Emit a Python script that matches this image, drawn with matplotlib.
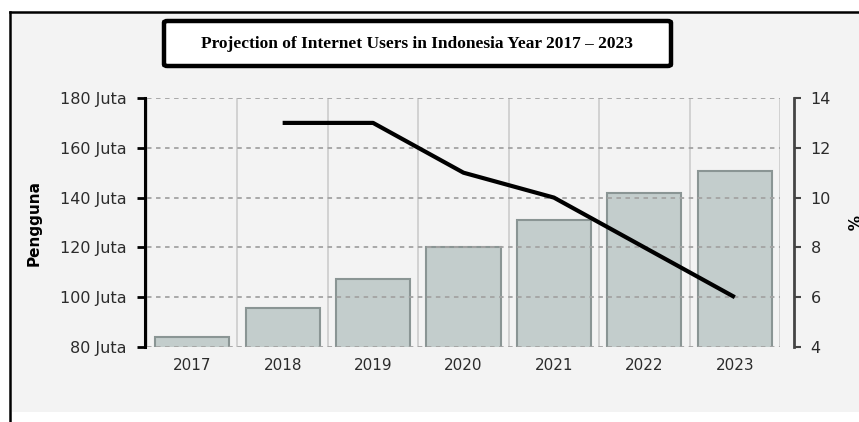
import matplotlib.pyplot as plt
import numpy as np
from matplotlib.patches import Rectangle, FancyBboxPatch
from matplotlib.lines import Line2D

# ===== Data =====
years = ["2017", "2018", "2019", "2020", "2021", "2022", "2023"]
users_juta = [84, 95.5, 107.5, 120, 131, 142, 150.5]
growth_years = ["2018", "2019", "2020", "2021", "2022", "2023"]
growth_pct = [13, 13, 11, 10, 8, 6]
left_ticks = [80, 100, 120, 140, 160, 180]
right_ticks = [4, 6, 8, 10, 12, 14]

# ===== Styling =====
W, H = 859, 422
bar_face = "#c3cdcc"
bar_edge = "#8a9594"
tick_color = "#2b2b2b"

fig = plt.figure(figsize=(W / 100, H / 100), dpi=100)
fig.patch.set_facecolor("white")

# gray panel + black frame (top and left)
fig.patches.append(Rectangle((12 / W, 1 - 412 / H), 1, (412 - 13) / H,
                             transform=fig.transFigure, facecolor="#f3f3f3",
                             edgecolor="none", zorder=-5))
fig.lines.append(Line2D([10 / W, 1], [1 - 12 / H, 1 - 12 / H], transform=fig.transFigure,
                        color="black", lw=1.8, zorder=-4))
fig.lines.append(Line2D([10 / W, 10 / W], [1 - 12 / H, 0], transform=fig.transFigure,
                        color="black", lw=1.8, zorder=-4))

ax = fig.add_axes([147 / W, 75 / H, 633 / W, 249 / H])
ax.set_facecolor("none")
x = np.arange(len(years))

ax.bar(x, users_juta, width=0.82, bottom=0, color=bar_face, edgecolor=bar_edge,
       linewidth=1.5, zorder=1)
ax.set_xlim(-0.5, len(years) - 0.5)
ax.set_ylim(80, 180)
ax.set_yticks(left_ticks)
ax.set_yticklabels([f"{v} Juta" for v in left_ticks])
ax.set_xticks(x)
ax.set_xticklabels(years)

# grid: dotted horizontal, solid light vertical at category boundaries
ax.set_xticks(np.arange(-0.5, len(years)), minor=True)
ax.grid(True, axis="x", which="minor", color="#d2d2d2", lw=1.4, zorder=0.5)
ax.grid(False, axis="x", which="major")
ax.grid(True, axis="y", which="major", color="#a3a3a3", lw=1.3,
        linestyle=(0, (2.5, 2.5)), zorder=2)
ax.set_axisbelow(False)

for s in ["top", "right", "bottom"]:
    ax.spines[s].set_visible(False)
ax.spines["left"].set_position(("outward", 1.5))
ax.spines["left"].set_linewidth(2.2)
ax.tick_params(axis="y", which="major", direction="out", length=6, width=2,
               colors="black", labelcolor=tick_color, labelsize=11.5, pad=7)
ax.tick_params(axis="x", which="both", length=0, labelcolor=tick_color,
               labelsize=11, pad=8)
ax.set_ylabel("Pengguna", fontsize=11, fontweight="bold", labelpad=13)

# growth line on right axis
ax2 = ax.twinx()
gx = [years.index(y) for y in growth_years]
ax2.plot(gx, growth_pct, color="black", lw=3, solid_capstyle="butt",
         solid_joinstyle="round", zorder=5)
ax2.set_ylim(4, 14)
ax2.set_yticks(right_ticks)
for s in ["top", "left", "bottom"]:
    ax2.spines[s].set_visible(False)
ax2.spines["right"].set_position(("outward", 10))
ax2.spines["right"].set_linewidth(2)
ax2.spines["right"].set_color("#444444")
ax2.tick_params(axis="y", direction="out", length=5, width=1.5, colors="#444444",
                labelcolor=tick_color, labelsize=11.5, pad=7)
ax2.set_ylabel("%", fontsize=11, fontweight="bold", rotation=270, labelpad=20)

# title box
fig.patches.append(FancyBboxPatch((164 / W, 1 - 66 / H), (671 - 164) / W, 45 / H,
                                  boxstyle="round,pad=0,rounding_size=0.004",
                                  transform=fig.transFigure, facecolor="white",
                                  edgecolor="black", lw=3.2, zorder=3))
fig.text(417 / W, 1 - 44 / H, "Projection of Internet Users in Indonesia Year 2017 \u2013 2023",
         ha="center", va="center", fontsize=12.5, fontweight="bold",
         family="Liberation Serif", zorder=4)

fig.savefig("out.png", dpi=100)
